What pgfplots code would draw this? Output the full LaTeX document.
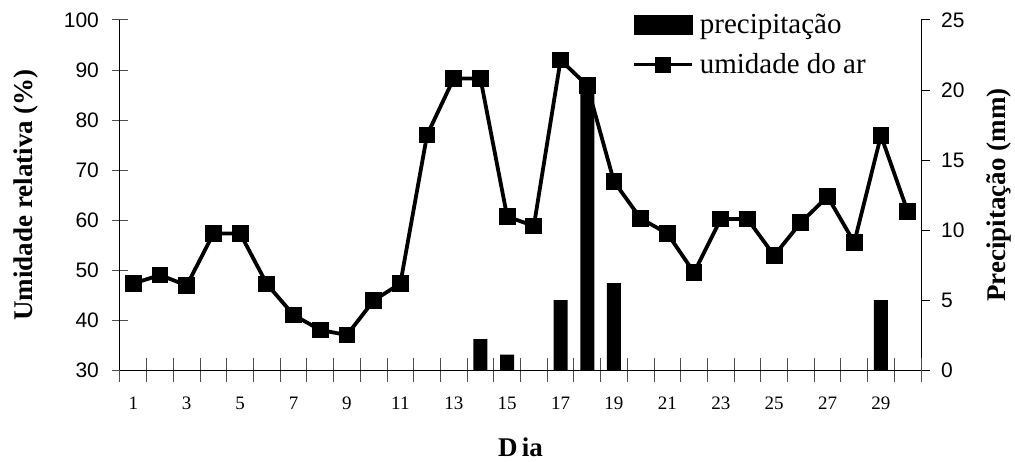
\documentclass[border=0pt]{standalone}
\usepackage{pgfplots}
\pgfplotsset{compat=1.18}
\usepackage{fontspec}
\setmainfont{Liberation Serif}
\setsansfont{Liberation Sans}

% umidade relativa do ar (%)
\pgfplotstableread{
dia umid
1 47.3
2 49.0
3 46.9
4 57.3
5 57.3
6 47.2
7 41.0
8 38.0
9 37.0
10 43.9
11 47.3
12 77.0
13 88.3
14 88.3
15 60.7
16 58.8
17 92.0
18 86.9
19 67.7
20 60.3
21 57.3
22 49.5
23 60.2
24 60.2
25 52.9
26 59.5
27 64.7
28 55.5
29 76.9
30 61.7
}\umidade

% precipitacao (mm)
\pgfplotstableread{
dia prec
14 2.2
15 1.1
17 5.0
18 20.5
19 6.2
29 5.0
}\chuva

\pgfplotsset{
  barlegend/.style={legend image code/.code={\fill[black] (0pt,-4.75pt) rectangle (29pt,4.75pt);}},
  linelegend/.style={legend image code/.code={
    \draw[black, line width=1.8pt] (0pt,0pt) -- (29pt,0pt);
    \fill[black] (11.5pt,-3pt) rectangle (17.5pt,3pt);}},
}

\begin{document}
\begin{tikzpicture}
\path[use as bounding box] (-60pt,-45.5pt) rectangle (447.5pt,185pt);

\pgfplotsset{
  base/.style={
    scale only axis,
    width=400.5pt, height=175pt,
    at={(0,0)}, anchor=south west,
    xmin=0.5, xmax=30.5,
    axis line style={black, line width=0.5pt},
    /pgf/number format/assume math mode=true,
  },
}

% barras: precipitacao (eixo direito)
\begin{axis}[
  base,
  ymin=0, ymax=25,
  axis x line=none,
  axis y line*=right,
  ytick={0,5,...,25},
  tick align=outside,
  major tick length=4.5pt,
  tick style={black, line width=0.5pt},
  yticklabel style={font=\sffamily\fontsize{10.5}{12}\selectfont, xshift=2pt},
  every axis y label/.style={at={(rel axis cs:1,0.5)}, xshift=39pt, rotate=90, anchor=center},
  ylabel={\fontsize{13.5}{15}\selectfont\bfseries Precipitação (mm)},
]
\addplot[ybar, bar width=7pt, bar shift=0pt, draw=none, fill=black] table[x=dia, y=prec] {\chuva};
\end{axis}

% linha: umidade relativa (eixo esquerdo)
\begin{axis}[
  base,
  ymin=30, ymax=100,
  axis x line*=bottom,
  axis y line*=left,
  ytick={30,40,...,100},
  xtick={1,3,...,29},
  minor xtick={0.5,1.5,...,30.5},
  tick align=center,
  tick style={black, line width=0.5pt},
  x tick style={draw=none},
  minor x tick style={draw=black!70, line width=0.5pt},
  minor tick length=12pt,
  y tick style={draw=black!70},
  major tick length=8pt,
  xticklabel style={font=\fontsize{9.5}{11}\selectfont, yshift=-6pt},
  yticklabel style={font=\sffamily\fontsize{10.5}{12}\selectfont, xshift=-3pt},
  every axis y label/.style={at={(rel axis cs:0,0.5)}, xshift=-47pt, rotate=90, anchor=center},
  ylabel={\fontsize{13.5}{15}\selectfont\bfseries Umidade relativa (\%)},
  every axis x label/.style={at={(rel axis cs:0.5,0)}, yshift=-38.5pt, anchor=center},
  xlabel={\fontsize{13.5}{15}\selectfont\bfseries D\,ia},
  legend style={draw=none, fill=none, at={(0.639,1.031)}, anchor=north west,
    inner sep=0pt, row sep=4.5pt,
    font=\fontsize{14.5}{17}\selectfont,
    nodes={inner xsep=3pt}},
  legend cell align=left,
]
\addlegendimage{barlegend}
\addlegendentry{precipitação}
\addplot[black, line width=1.9pt, mark=square*, mark size=3.25pt, linelegend]
  table[x=dia, y=umid] {\umidade};
\addlegendentry{umidade do ar}
\end{axis}
\end{tikzpicture}
\end{document}
